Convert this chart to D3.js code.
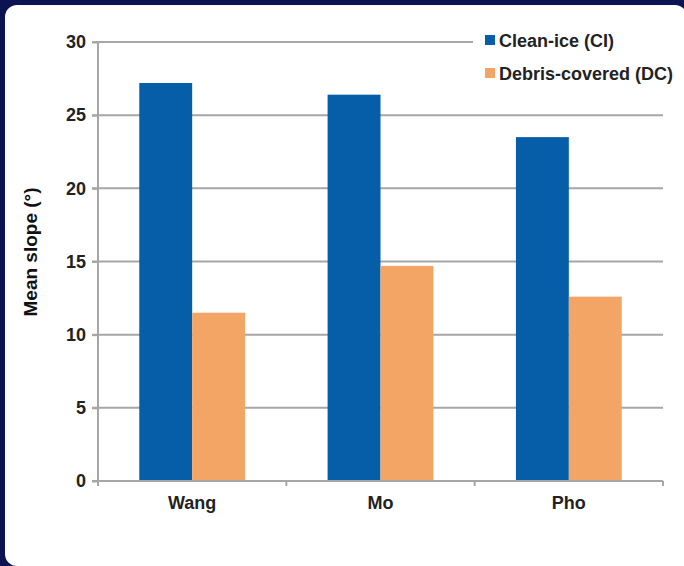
<!DOCTYPE html>
<html><head><meta charset="utf-8">
<script src="https://cdn.jsdelivr.net/npm/d3@7"></script>
<style>html,body{margin:0;padding:0;background:#0b1352;}svg{display:block;}</style>
</head><body>
<svg id="c" width="684" height="566"></svg>
<script>
const categories = ["Wang", "Mo", "Pho"];
const seriesNames = ["Clean-ice (CI)", "Debris-covered (DC)"];
const cleanIce = [27.2, 26.4, 23.5];
const debrisCovered = [11.5, 14.7, 12.6];
const yTicks = [0, 5, 10, 15, 20, 25, 30];
const colors = ["#075ea8", "#f2a564"];

const svg = d3.select("#c");
svg.append("rect").attr("x", 5).attr("y", 5).attr("width", 682).attr("height", 561)
  .attr("rx", 12).attr("fill", "#ffffff");
svg.append("rect").attr("x", 20).attr("y", 540).attr("width", 664).attr("height", 26).attr("fill", "#ffffff");

const x0 = 98, x1 = 663, yBase = 481, yTop = 42;
const x = d3.scaleBand().domain(categories).range([x0, x1]).paddingInner(0).paddingOuter(0);
const xs = d3.scaleBand().domain(seriesNames).range([0, x.bandwidth()]).paddingInner(0).paddingOuter(0.78);
const y = d3.scaleLinear().domain([0, 30]).range([yBase, yTop]);

const font = "Liberation Sans, Arial, sans-serif";
const grey = "#a6a6a6";
// gridlines
const g = svg.append("g");
g.selectAll("line.grid").data(yTicks.filter(d => d > 0)).join("line")
  .attr("x1", x0 - 6).attr("x2", d => d === 30 ? 473 : x1)
  .attr("y1", d => y(d)).attr("y2", d => y(d))
  .attr("stroke", grey).attr("stroke-width", 2);

// bars
const data = categories.map((c, i) => ({c, vals: [cleanIce[i], debrisCovered[i]]}));
const grp = svg.append("g").selectAll("g").data(data).join("g")
  .attr("transform", d => `translate(${x(d.c)},0)`);
grp.selectAll("rect").data(d => d.vals.map((v, j) => ({s: seriesNames[j], v, j}))).join("rect")
  .attr("x", d => xs(d.s)).attr("width", xs.bandwidth())
  .attr("y", d => y(d.v)).attr("height", d => yBase - y(d.v))
  .attr("fill", d => colors[d.j]);

// y axis
const yAxis = svg.append("g").attr("transform", `translate(${x0},0)`)
  .call(d3.axisLeft(y).tickValues(yTicks).tickSize(6).tickPadding(6));
yAxis.select(".domain").attr("stroke", grey).attr("stroke-width", 2).attr("d", `M0,${yTop}V${yBase}`);
yAxis.selectAll(".tick line").attr("stroke", grey).attr("stroke-width", 2);
yAxis.selectAll(".tick text").attr("font-family", font).attr("font-size", 18).attr("font-weight", "bold").attr("fill", "#222");

// x axis
const xAxis = svg.append("g").attr("transform", `translate(0,${yBase})`)
  .call(d3.axisBottom(x).tickSize(0).tickPadding(15));
xAxis.select(".domain").attr("stroke", grey).attr("stroke-width", 2).attr("d", `M${x0 - 6},0H${x1}`);
xAxis.selectAll(".tick text").attr("font-family", font).attr("font-size", 18).attr("font-weight", "bold").attr("fill", "#222");
svg.append("g").selectAll("line").data([x0, x0 + x.bandwidth(), x0 + 2 * x.bandwidth(), x1]).join("line")
  .attr("x1", d => d).attr("x2", d => d).attr("y1", yBase).attr("y2", yBase + 5)
  .attr("stroke", grey).attr("stroke-width", 2);

// y label
svg.append("text").attr("transform", `translate(37,252) rotate(-90)`)
  .attr("text-anchor", "middle").attr("font-family", font).attr("font-size", 19)
  .attr("font-weight", "bold").attr("fill", "#111").text("Mean slope (°)");

// legend
const leg = svg.append("g").selectAll("g").data(seriesNames).join("g")
  .attr("transform", (d, i) => `translate(485,${35 + i * 33})`);
leg.append("rect").attr("width", 10).attr("height", 10).attr("fill", (d, i) => colors[i]);
leg.append("text").attr("x", 14).attr("y", 12).attr("font-family", font).attr("font-size", 18)
  .attr("font-weight", "bold").attr("fill", "#222").text(d => d);
</script>
</body></html>
